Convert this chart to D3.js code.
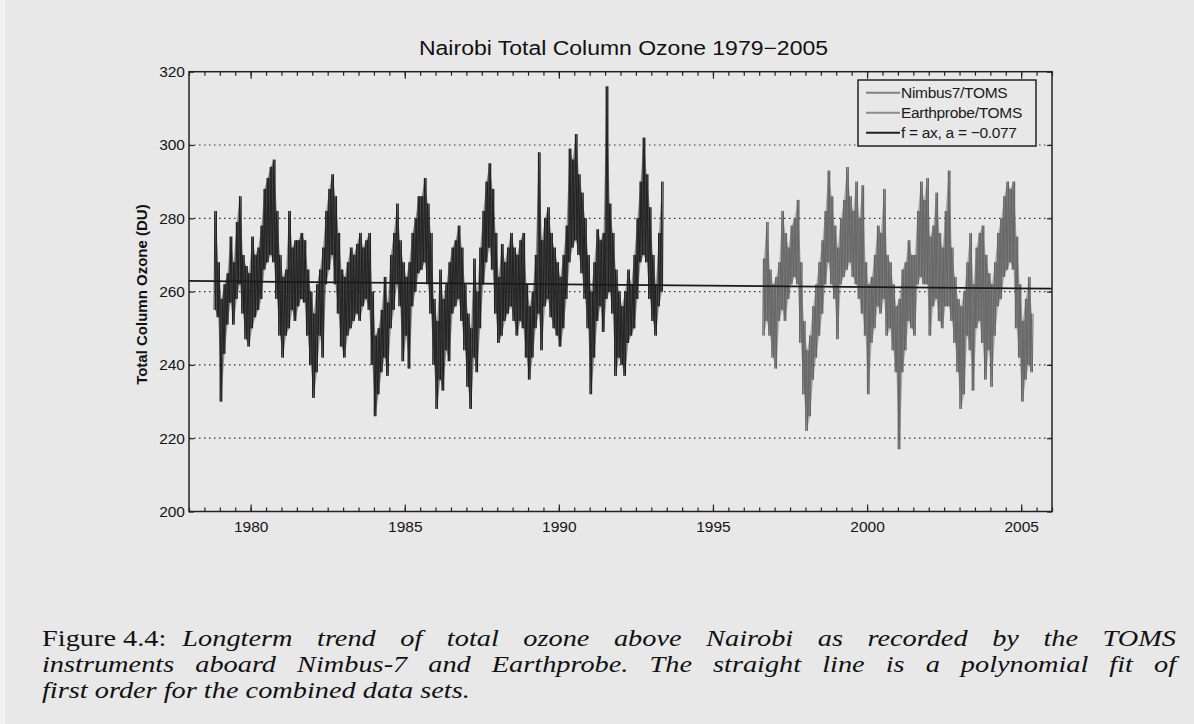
<!DOCTYPE html>
<html><head><meta charset="utf-8">
<script src="https://cdn.jsdelivr.net/npm/d3@7"></script>
<style>
html,body{margin:0;padding:0;background:#e8e8e8;}
svg{display:block;}
</style></head>
<body>
<svg id="chart" width="1194" height="724"></svg>
<script>
// ---- data ----
const titleText = "Nairobi Total Column Ozone 1979\u22122005";
const yLabelText = "Total Column Ozone (DU)";
const stepYears = 0.1;
const nimbusStart = 1978.85;
const nimbusHi = [282,268,258,262,265,275,268,279,286,270,267,265,275,270,272,278,288,291,294,296,282,270,264,266,282,272,274,274,276,274,266,260,254,262,266,272,282,288,292,286,276,266,264,268,272,270,273,
276,272,274,276,260,248,250,255,264,257,270,276,284,274,268,264,268,276,280,286,286,291,284,276,258,252,266,258,262,268,272,274,278,272,262,254,250,269,260,272,282,290,295,288,276,264,273,268,272,276,
272,270,274,276,262,256,260,270,298,274,280,283,276,272,268,264,270,278,299,296,303,292,287,280,270,260,268,277,274,276,316,284,276,266,260,256,260,266,262,270,280,290,302,292,283,270,262,276,290];
const nimbusLo = [255,253,230,243,251,257,251,258,262,254,247,245,250,253,255,258,266,268,270,268,258,248,242,248,250,255,252,256,258,257,248,240,231,238,248,242,262,266,270,262,254,245,242,248,250,252,254,
252,256,258,255,240,226,232,238,242,237,250,255,262,256,241,248,239,256,260,265,266,268,262,254,240,228,236,233,244,241,254,256,258,252,244,234,228,242,238,250,262,268,272,266,254,246,248,252,254,256,
252,248,252,250,242,236,242,250,254,244,256,258,253,250,248,245,250,258,268,272,274,270,265,258,250,232,242,252,256,249,258,260,254,237,242,240,237,246,248,250,258,268,270,268,258,252,248,256,260];
const earthStart = 1996.65;
const earthHi = [269,279,266,262,264,268,282,276,272,278,280,285,268,252,244,248,256,262,268,274,282,293,286,278,272,280,285,294,286,282,290,280,289,268,262,264,270,278,276,288,270,268,262,256,
258,266,268,274,270,270,282,290,285,291,275,278,287,276,272,282,293,272,264,258,256,260,268,276,262,272,276,278,270,265,262,268,276,280,286,290,288,290,275,262,252,258,264,254];
const earthLo = [248,252,248,242,239,252,255,252,258,262,264,262,246,232,222,226,236,242,248,254,262,268,262,258,247,262,264,266,268,264,262,258,254,248,232,246,250,256,254,258,248,250,244,238,
217,238,244,252,250,248,262,264,262,262,248,256,258,252,250,256,256,252,246,238,228,232,248,244,233,250,252,246,236,244,234,248,256,258,264,266,268,266,250,242,230,236,240,238];
const fitYears = [1978, 2006];
const fitValues = [262.9, 260.8];
const yTicks = [200, 220, 240, 260, 280, 300, 320];
const gridValues = [220, 240, 260, 280, 300];
const xTicks = [1980, 1985, 1990, 1995, 2000, 2005];
const xMinorTicks = d3.range(1978, 2006.001, 0.5);
const legendLabels = ["Nimbus7/TOMS", "Earthprobe/TOMS", "f = ax, a = \u22120.077"];
const captionLabel = "Figure 4.4:";
const captionLines = [
  "Longterm trend of total ozone above Nairobi as recorded by the TOMS",
  "instruments aboard Nimbus-7 and Earthprobe. The straight line is a polynomial fit of",
  "first order for the combined data sets."
];

// ---- layout ----
const W = 1194, H = 724;
const plot = {left: 189, right: 1052, top: 71.7, bottom: 511.5};
const colors = {nimbus: "#1c1c1c", earth: "#626262", fit: "#1a1a1a", axis: "#222"};
const svg = d3.select("#chart");
svg.append("rect").attr("width", W).attr("height", H).attr("fill", "#e8e8e8");
svg.append("rect").attr("width", 5).attr("height", H).attr("fill", "#f2f2f2");

const x = d3.scaleLinear().domain([1978, 2006]).range([plot.left, plot.right]);
const y = d3.scaleLinear().domain([200, 320]).range([plot.bottom, plot.top]);

// grid
svg.append("g").selectAll("line").data(gridValues).join("line")
  .attr("x1", plot.left).attr("x2", plot.right)
  .attr("y1", d => y(d)).attr("y2", d => y(d))
  .attr("stroke", "#333").attr("stroke-width", 1.2)
  .attr("stroke-dasharray", "1.5,3.5");

svg.append("clipPath").attr("id", "pc").append("rect")
  .attr("x", plot.left).attr("y", plot.top)
  .attr("width", plot.right - plot.left).attr("height", plot.bottom - plot.top);

// each 0.1-year step: the daily values swing between its low and high readings
function zig(start, hi, lo) {
  const pts = [];
  hi.forEach((h, i) => {
    const t = start + i * stepYears;
    pts.push([t - 0.0375, lo[i]]);
    pts.push([t - 0.0125, h]);
    pts.push([t + 0.0125, lo[i]]);
    pts.push([t + 0.0375, h]);
  });
  return pts;
}
function band(start, hi, lo) {
  return hi.map((h, i) => ({t: start + i * stepYears, hi: h, lo: lo[i]}));
}
const line = d3.line().x(d => x(d[0])).y(d => y(d[1]));
const area = d3.area().x(d => x(d.t)).y0(d => y(d.lo)).y1(d => y(d.hi));
const dataG = svg.append("g").attr("clip-path", "url(#pc)");
[[nimbusStart, nimbusHi, nimbusLo, colors.nimbus], [earthStart, earthHi, earthLo, colors.earth]].forEach(s => {
  dataG.append("path").attr("d", area(band(s[0], s[1], s[2])))
    .attr("fill", s[3]).attr("fill-opacity", 0.45);
  dataG.append("path").attr("d", line(zig(s[0], s[1], s[2])))
    .attr("fill", "none").attr("stroke", s[3]).attr("stroke-width", 0.9);
});
dataG.append("path").attr("d", line(fitYears.map((t, i) => [t, fitValues[i]])))
  .attr("fill", "none").attr("stroke", colors.fit).attr("stroke-width", 1.8);

// axes
const tickFont = "Liberation Sans, Arial, sans-serif";
const bottomMinor = d3.axisBottom(x).tickValues(xMinorTicks).tickSize(-4).tickFormat("");
const bottomMajor = d3.axisBottom(x).tickValues(xTicks).tickSize(-7).tickPadding(9).tickFormat(d3.format("d"));
const topMinor = d3.axisTop(x).tickValues(xMinorTicks).tickSize(-4).tickFormat("");
const topMajor = d3.axisTop(x).tickValues(xTicks).tickSize(-7).tickFormat("");
const leftAx = d3.axisLeft(y).tickValues(yTicks).tickSize(-5).tickPadding(4).tickFormat(d3.format("d"));
const rightAx = d3.axisRight(y).tickValues(yTicks).tickSize(-5).tickFormat("");

function styleAxis(g) {
  g.select(".domain").remove();
  g.selectAll(".tick line").attr("stroke", colors.axis).attr("stroke-width", 1.2);
  g.selectAll(".tick text").attr("fill", "#151515").style("font-family", tickFont)
    .style("font-size", "15.5px");
}
svg.append("g").attr("transform", `translate(0,${plot.bottom})`).call(bottomMinor).call(styleAxis);
svg.append("g").attr("transform", `translate(0,${plot.bottom})`).call(bottomMajor).call(styleAxis);
svg.append("g").attr("transform", `translate(0,${plot.top})`).call(topMinor).call(styleAxis);
svg.append("g").attr("transform", `translate(0,${plot.top})`).call(topMajor).call(styleAxis);
svg.append("g").attr("transform", `translate(${plot.left},0)`).call(leftAx).call(styleAxis);
svg.append("g").attr("transform", `translate(${plot.right},0)`).call(rightAx).call(styleAxis);

svg.append("rect").attr("x", plot.left).attr("y", plot.top)
  .attr("width", plot.right - plot.left).attr("height", plot.bottom - plot.top)
  .attr("fill", "none").attr("stroke", colors.axis).attr("stroke-width", 1.5);

// title
svg.append("text").attr("x", 419).attr("y", 55)
  .style("font-family", tickFont).style("font-size", "20px")
  .attr("textLength", 409).attr("lengthAdjust", "spacingAndGlyphs")
  .attr("fill", "#111").text(titleText);

// y label
svg.append("text").attr("transform", `translate(147,${(plot.top + plot.bottom) / 2 + 3}) rotate(-90)`)
  .attr("text-anchor", "middle").style("font-family", tickFont).style("font-size", "15px")
  .style("font-weight", "bold").attr("fill", "#111").text(yLabelText);

// legend
const leg = svg.append("g");
leg.append("rect").attr("x", 858).attr("y", 80).attr("width", 178).attr("height", 66)
  .attr("fill", "#e8e8e8").attr("stroke", "#222").attr("stroke-width", 1.5);
const legColors = ["#808080", "#8c8c8c", "#222"];
legendLabels.forEach((lab, i) => {
  const ly = 92.7 + i * 20;
  leg.append("line").attr("x1", 866).attr("x2", 900).attr("y1", ly).attr("y2", ly)
    .attr("stroke", legColors[i]).attr("stroke-width", 2);
  leg.append("text").attr("x", 901).attr("y", ly).attr("dy", "0.36em")
    .style("font-family", tickFont).style("font-size", "15.5px").style("letter-spacing", "-0.3px")
    .attr("fill", "#1a1a1a").text(lab);
});

// caption: serif text, stretched horizontally to the width of the original face
const capFont = "Liberation Serif, 'DejaVu Serif', serif";
const capLeft = 42, capRight = 1176, lastLineRight = 470;
const baselines = [646.5, 672.5, 698.5];
function capText(parent, str, italic, yb) {
  return parent.append("text").attr("x", 0).attr("y", yb)
    .style("font-family", capFont).style("font-size", "23px")
    .style("font-style", italic ? "italic" : "normal").attr("fill", "#111").text(str);
}
// italic scale from the (unjustified) last line
const g3 = svg.append("g");
const t3 = capText(g3, captionLines[2], true, baselines[2]);
const sx = (lastLineRight - capLeft) / t3.node().getComputedTextLength();
g3.attr("transform", `translate(${capLeft},0) scale(${sx},1)`);
// label, same stretch, natural spacing
const gl = svg.append("g").attr("transform", `translate(${capLeft},0) scale(${sx},1)`);
const tl = capText(gl, captionLabel, false, baselines[0]);
const line1Start = capLeft + tl.node().getComputedTextLength() * sx + 16;
// justified lines
[[captionLines[0], line1Start, baselines[0]], [captionLines[1], capLeft, baselines[1]]].forEach(([str, x0, yb]) => {
  const g = svg.append("g").attr("transform", `translate(${x0},0) scale(${sx},1)`);
  const t = capText(g, str, true, yb);
  const w = t.node().getComputedTextLength();
  const spaces = (str.match(/ /g) || []).length;
  t.style("word-spacing", Math.max(0, ((capRight - x0) / sx - w) / spaces) + "px");
});
</script>
</body></html>
